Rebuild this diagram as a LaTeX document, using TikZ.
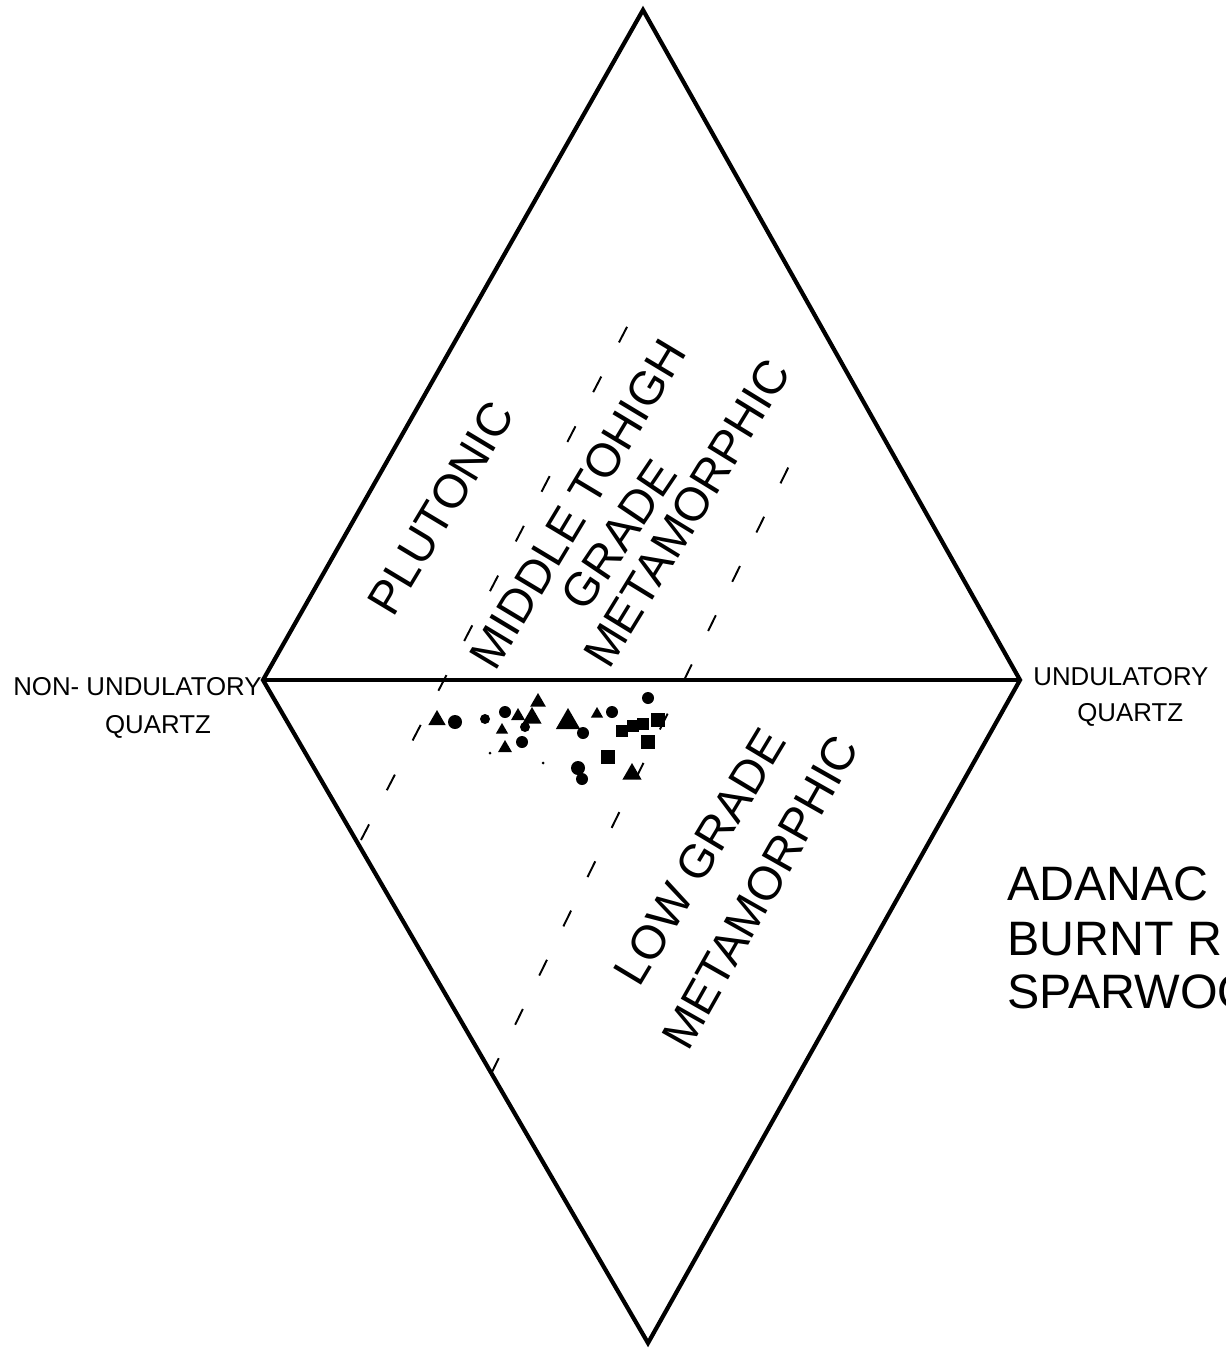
\documentclass[tikz,border=0pt]{standalone}
\usepackage{fontspec}
\setmainfont{Liberation Sans}
\tikzset{
  edge/.style={line width=2.4pt},
  zone/.style={line width=1.1pt, dash pattern=on 10pt off 20pt},
  zonelbl/.style={inner sep=0pt, font=\fontsize{26.8}{27}\selectfont},
  endlbl/.style={inner sep=0pt, font=\fontsize{14.7}{15}\selectfont},
  sitelbl/.style={inner sep=0pt, anchor=base west, font=\fontsize{27.5}{28}\selectfont},
  sample/.style={fill=black},
}
\begin{document}
\begin{tikzpicture}[x={(0.02cm,0)}, y={(0,-0.02cm)}]
  \useasboundingbox (0,0) rectangle (1225,1348);

  % --- diamond ---
  \coordinate (top) at (643,10);
  \coordinate (lft) at (263,680);
  \coordinate (rgt) at (1020,680);
  \coordinate (bot) at (648,1343);
  \draw[edge] (top) -- (rgt) -- (bot) -- (lft) -- cycle;
  \draw[edge] (lft) -- (rgt);

  % --- field boundaries (dashed, drawn up from the lower edge) ---
  \coordinate (d1a) at (628,325);
  \coordinate (d1b) at (361,840);
  \coordinate (d2a) at (789,466);
  \coordinate (d2b) at (491,1074);
  \draw[zone, dash pattern=on 10pt off 21.9pt] (d1b) -- (d1a);
  \draw[zone, dash pattern=on 10pt off 21.2pt] (d2b) -- (d2a);

  % --- field names ---
  \node[zonelbl, rotate=59] (plut) at (441,508) {PLUTONIC};
  \node[zonelbl, rotate=59] (midA) at (578,504) {MIDDLE TOHIGH};
  \node[zonelbl, rotate=56] (midB) at (619,535) {GRADE};
  \node[zonelbl, rotate=58.5] (midC) at (687,513) {METAMORPHIC};
  \node[zonelbl, rotate=59] (lowA) at (700,857) {LOW GRADE};
  \node[zonelbl, rotate=60.5] (lowB) at (760,892) {METAMORPHIC};

  % --- end members ---
  \node[endlbl, anchor=base west] (nonA) at (13,695) {NON- UNDULATORY};
  \node[endlbl, anchor=base] (nonB) at (158,733) {QUARTZ};
  \node[endlbl, anchor=base west] (undA) at (1033,685) {UNDULATORY};
  \node[endlbl, anchor=base west] (undB) at (1077,721) {QUARTZ};

  % --- locality ---
  \node[sitelbl] (siteA) at (1007,900) {ADANAC};
  \node[sitelbl] (siteB) at (1007,955) {BURNT R};
  \node[sitelbl] (siteC) at (1007,1008) {SPARWOOD};

  % --- samples ---
  % triangles
  \foreach \px/\py/\s in {437/720/10, 502/730/7, 518/716/8, 532/718/11, 538/702/9,
                          505/748/8, 568/722/14, 597/714/7, 632/774/11}
    \fill[sample] ({\px},{\py-\s}) -- ({\px-0.866*\s},{\py+0.5*\s})
                -- ({\px+0.866*\s},{\py+0.5*\s}) -- cycle;
  % circles
  \foreach \px/\py/\r in {455/722/7, 485/719/5, 505/712/6, 522/742/6, 525/727/5,
                          583/733/6, 612/712/6, 648/698/6, 578/768/7, 582/779/6,
                          490/753/1.5, 543/763/1.5}
    \fill[sample] (\px,\py) circle[radius=\r];
  % squares
  \foreach \px/\py/\h in {622/731/6, 633/726/6, 643/724/6, 658/720/7, 648/742/7, 608/757/7}
    \fill[sample] ({\px-\h},{\py-\h}) rectangle ({\px+\h},{\py+\h});
\end{tikzpicture}
\end{document}
